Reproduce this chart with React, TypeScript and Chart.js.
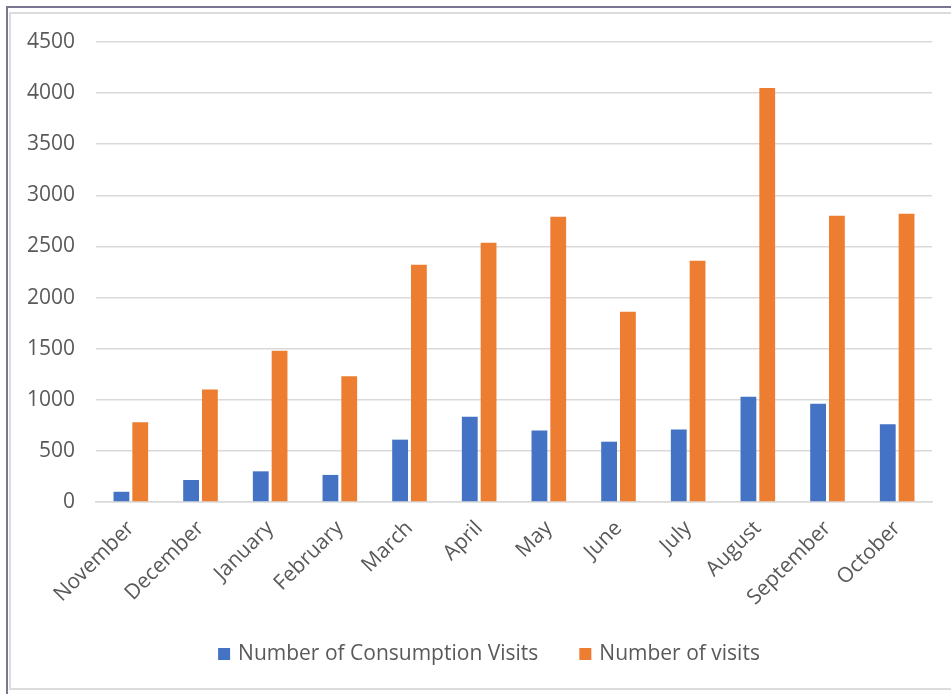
import React, { useEffect, useRef } from "react";
import { Chart, registerables } from "chart.js";

Chart.register(...registerables);

const months = [
  "November", "December", "January", "February", "March", "April",
  "May", "June", "July", "August", "September", "October",
];
const consumptionVisits = [100, 215, 300, 265, 610, 835, 700, 590, 710, 1030, 960, 760];
const totalVisits = [780, 1100, 1480, 1230, 2320, 2535, 2790, 1860, 2360, 4050, 2800, 2820];
const yTicks = [0, 500, 1000, 1500, 2000, 2500, 3000, 3500, 4000, 4500];

const FONT = "'Open Sans', 'Noto Sans', sans-serif";
const TEXT = "#595959";
const GRID = "#d9d9d9";
const FONT_SIZE = 21;

// Legend row drawn under the axis: square swatch, label, wide gap between entries.
const bottomLegend = {
  id: "bottomLegend",
  afterDraw(chart: any) {
    const ctx = chart.ctx as CanvasRenderingContext2D;
    const box = 12;
    const textGap = 8;
    const itemGap = 41;
    const centerX = 489;
    const centerY = 654;
    ctx.save();
    ctx.font = `${FONT_SIZE}px ${FONT}`;
    ctx.textBaseline = "middle";
    ctx.textAlign = "left";
    const items = chart.data.datasets.map((ds: any) => ({
      text: ds.label as string,
      color: ds.backgroundColor as string,
      width: ctx.measureText(ds.label).width,
    }));
    const total = items.reduce((s: number, it: any) => s + box + textGap + it.width, 0) + itemGap * (items.length - 1);
    let x = centerX - total / 2;
    for (const it of items) {
      ctx.fillStyle = it.color;
      ctx.fillRect(x, centerY - box / 2, box, box);
      ctx.fillStyle = TEXT;
      ctx.fillText(it.text, x + box + textGap, centerY);
      x += box + textGap + it.width + itemGap;
    }
    ctx.restore();
  },
};

export default function App() {
  const ref = useRef<HTMLCanvasElement | null>(null);

  useEffect(() => {
    if (!ref.current) return;
    const chart = new Chart(ref.current, {
      type: "bar",
      data: {
        labels: months,
        datasets: [
          {
            label: "Number of Consumption Visits",
            data: consumptionVisits,
            backgroundColor: "#4472c4",
            categoryPercentage: 0.54,
            barPercentage: 0.84,
          },
          {
            label: "Number of visits",
            data: totalVisits,
            backgroundColor: "#ed7d31",
            categoryPercentage: 0.54,
            barPercentage: 0.84,
          },
        ],
      },
      options: {
        animation: false,
        responsive: false,
        layout: { padding: { left: 20, right: 19, top: 42, bottom: 20 } },
        plugins: {
          tooltip: { enabled: false },
          legend: { display: false },
        },
        scales: {
          x: {
            grid: { display: false, drawTicks: false },
            border: { display: true, color: GRID, width: 1.5 },
            ticks: {
              color: TEXT,
              font: { family: FONT, size: FONT_SIZE },
              maxRotation: 45,
              minRotation: 45,
              padding: 14,
            },
            afterFit: (scale: any) => {
              scale.height = 172;
            },
          },
          y: {
            min: 0,
            max: 4500,
            afterBuildTicks: (scale: any) => {
              scale.ticks = yTicks.map((v) => ({ value: v }));
            },
            grid: { color: GRID, lineWidth: 1.5, drawTicks: false },
            border: { display: false },
            ticks: {
              color: TEXT,
              font: { family: FONT, size: FONT_SIZE },
              padding: 21,
              callback: (v: any) => String(v),
            },
            afterFit: (scale: any) => {
              scale.width = 76;
            },
          },
        },
      },
      plugins: [bottomLegend],
    });
    return () => chart.destroy();
  }, []);

  return (
    <div style={{ position: "fixed", left: 0, top: 0, width: 951, height: 694, background: "#fff", overflow: "hidden" }}>
      <div
        style={{
          position: "absolute",
          left: 6,
          top: 6,
          width: 960,
          height: 700,
          borderLeft: "2px solid #7b7592",
          borderTop: "2px solid #7b7592",
        }}
      />
      <div
        style={{
          position: "absolute",
          left: 9,
          top: 12,
          width: 960,
          height: 678,
          border: "2px solid #dcdcdc",
          boxSizing: "border-box",
        }}
      />
      <canvas ref={ref} width={951} height={694} style={{ position: "absolute", left: 0, top: 0 }} />
    </div>
  );
}
